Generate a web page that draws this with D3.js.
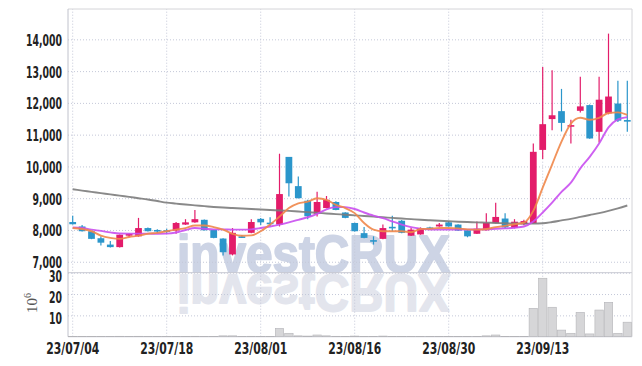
<!DOCTYPE html>
<html>
<head>
<meta charset="utf-8">
<script src="https://cdn.jsdelivr.net/npm/d3@7"></script>
<style>
  body { margin: 0; background: #fff; }
  svg { display: block; }
  .axis text { font-family: "DejaVu Sans Condensed", "DejaVu Sans", sans-serif; font-weight: bold; font-size: 15px; fill: #222; }
  .axis .domain { display: none; }
  .axis line { stroke: #c4c8d8; stroke-dasharray: 1,2; }
</style>
</head>
<body>
<svg width="642" height="366"></svg>
<script>
const dates = [
  "23/07/04","23/07/05","23/07/06","23/07/07","23/07/10","23/07/11","23/07/12","23/07/13","23/07/14","23/07/17",
  "23/07/18","23/07/19","23/07/20","23/07/21","23/07/24","23/07/25","23/07/26","23/07/27","23/07/28","23/07/31",
  "23/08/01","23/08/02","23/08/03","23/08/04","23/08/07","23/08/08","23/08/09","23/08/10","23/08/11","23/08/14",
  "23/08/16","23/08/17","23/08/18","23/08/21","23/08/22","23/08/23","23/08/24","23/08/25","23/08/28","23/08/29",
  "23/08/30","23/08/31","23/09/01","23/09/04","23/09/05","23/09/06","23/09/07","23/09/08","23/09/11","23/09/12",
  "23/09/13","23/09/14","23/09/15","23/09/18","23/09/19","23/09/20","23/09/21","23/09/22","23/09/25","23/09/26"
];
const open = [
  8250, 8110, 7960, 7740, 7540, 7460, 7820, 7800, 8060, 8000,
  7990, 7980, 8170, 8240, 8320, 8000, 7730, 7230, 7800, 7910,
  8350, 8230, 8170, 10300, 9380, 8920, 8510, 8690, 8880, 8550,
  8220, 7900, 7680, 7720, 8100, 8290, 7820, 7860, 8080, 8110,
  8240, 8170, 7990, 7880, 7990, 8220, 8360, 8070, 8180, 8210,
  10520, 11490, 11740, 11260, 11750, 11930, 11090, 11670, 11980, 11460
];
const high = [
  8450, 8160, 7970, 7800, 7650, 7860, 7900, 8380, 8080, 8020,
  8040, 8250, 8340, 8630, 8330, 8010, 7740, 8060, 7840, 8340,
  8380, 8400, 10400, 10300, 9680, 8950, 9200, 9070, 8900, 8560,
  8230, 8090, 7800, 8170, 8450, 8310, 8060, 8080, 8100, 8220,
  8280, 8180, 8000, 8270, 8530, 8860, 8530, 8340, 8320, 10720,
  13130, 13030, 12440, 11470, 12820, 11950, 12820, 14180, 12700, 12700
];
const low = [
  8170, 7950, 7710, 7510, 7450, 7450, 7780, 7790, 7950, 7900,
  7880, 7880, 8160, 8230, 7980, 7740, 7200, 7200, 7750, 7900,
  8160, 8110, 8110, 9050, 8990, 8340, 8420, 8680, 8620, 8370,
  7950, 7740, 7540, 7710, 7950, 7900, 7810, 7850, 8020, 8100,
  8100, 7970, 7770, 7870, 7980, 8210, 8050, 8050, 8150, 8200,
  10230, 11140, 11100, 10720, 11700, 10870, 10750, 11640, 11400, 11090
];
const close = [
  8180, 7960, 7720, 7600, 7460, 7850, 7880, 8060, 7960, 7960,
  7960, 8220, 8240, 8340, 7990, 7750, 7300, 7910, 7790, 8250,
  8240, 8210, 9130, 9470, 9000, 8430, 8880, 8950, 8630, 8380,
  7960, 7750, 7670, 8060, 8080, 7910, 8010, 8060, 8030, 8170,
  8110, 7980, 7800, 8040, 8220, 8410, 8080, 8260, 8280, 10460,
  11330, 11610, 11370, 11300, 11890, 10880, 12100, 12200, 11440, 11450
];
const volume = [
  0.1, 0.1, 0.1, 0.1, 0.1, 0.2, 0.1, 0.2, 0.1, 0.1,
  0.1, 0.1, 0.1, 0.2, 0.1, 0.1, 0.4, 0.4, 0.1, 0.2,
  0.1, 0.1, 3.9, 1.6, 0.4, 0.3, 0.8, 0.4, 0.2, 0.1,
  0.3, 0.1, 0.1, 0.3, 0.1, 0.1, 0.1, 0.1, 0.1, 0.1,
  0.1, 0.1, 0.1, 0.1, 0.4, 0.8, 0.1, 0.1, 0.1, 13.3,
  27.4, 13.8, 3.1, 1.6, 11.4, 1.3, 12.5, 16.1, 1.6, 6.8
];
const ma5 = [
  8060, 8030, 7960, 7820, 7750, 7720, 7780, 7820, 7880, 7910,
  7960, 8010, 8060, 8140, 8140, 8090, 8010, 7880, 7820, 7830,
  7960, 8170, 8420, 8690, 8840, 8890, 9000, 8950, 8790, 8690,
  8530, 8220, 8010, 7960, 7960, 7960, 7930, 8030, 8040, 8060,
  8060, 8050, 8020, 8010, 8030, 8090, 8130, 8180, 8230, 8600,
  9330, 10060, 10780, 11350, 11530, 11470, 11530, 11680, 11700, 11620
];
const ma20 = [
  8080, 8060, 8010, 7970, 7925, 7890, 7885, 7885, 7885, 7880,
  7885, 7920, 8000, 8060, 8040, 8020, 8020, 8010, 8010, 8020,
  8060, 8110, 8170, 8240, 8320, 8400, 8510, 8650, 8720, 8720,
  8660, 8550, 8450, 8370, 8270, 8170, 8090, 8040, 8010, 8010,
  8010, 8010, 8010, 8020, 8020, 8040, 8050, 8070, 8110, 8270,
  8550, 8860, 9200, 9490, 9940, 10300, 10720, 11230, 11480, 11550
];
const ma120 = [
  9280, 9240, 9200, 9160, 9120, 9080, 9040, 9000, 8960, 8910,
  8860, 8830, 8800, 8775, 8750, 8725, 8705, 8690, 8675, 8660,
  8645, 8630, 8615, 8600, 8580, 8560, 8540, 8520, 8500, 8480,
  8460, 8440, 8420, 8400, 8380, 8360, 8340, 8320, 8305, 8290,
  8275, 8260, 8250, 8240, 8230, 8220, 8210, 8205, 8200, 8200,
  8210, 8250, 8300, 8350, 8410, 8470, 8530, 8600, 8680, 8770
];
const priceTicks = [7000, 8000, 9000, 10000, 11000, 12000, 13000, 14000];
const volumeTicks = [10, 20, 30];
const dateTicks = ["23/07/04", "23/07/18", "23/08/01", "23/08/16", "23/08/30", "23/09/13"];

const svg = d3.select("svg");
const plot = { left: 68, right: 632, top: 9, split: 272.7, bottom: 336.7 };

const x = d3.scaleBand().domain(dates).range([plot.left, plot.right]).padding(0);
const cx = d => x(d) + x.bandwidth() / 2;
const y = d3.scaleLinear().domain([6655, 14955]).range([plot.split, plot.top]);
const yVol = d3.scaleLinear().domain([0, 30]).range([plot.bottom, plot.split]);

// watermark + reflection
const wm = svg.append("g")
  .style("font-family", "'Liberation Sans', 'DejaVu Sans', sans-serif")
  .style("font-weight", "bold")
  .style("font-size", "51px")
  .attr("stroke-width", 1.8)
  .attr("stroke-linejoin", "round");
wm.append("text")
  .attr("x", 177).attr("y", 271.7)
  .attr("textLength", 273).attr("lengthAdjust", "spacingAndGlyphs")
  .attr("fill", "#cdd4e5")
  .attr("stroke", "#cdd4e5")
  .text("investCRUX");
wm.append("text")
  .attr("transform", `translate(0,${2 * 273.3}) scale(1,-1)`)
  .attr("x", 177).attr("y", 271.7)
  .attr("textLength", 273).attr("lengthAdjust", "spacingAndGlyphs")
  .attr("fill", "#e3e5ed")
  .attr("stroke", "#e3e5ed")
  .text("investCRUX");

// grid + axes
const yAxisG = svg.append("g")
  .attr("class", "axis")
  .attr("transform", `translate(${plot.left},0)`)
  .call(d3.axisLeft(y).tickValues(priceTicks).tickSizeInner(-(plot.right - plot.left)).tickSizeOuter(0)
    .tickPadding(6).tickFormat(d3.format(",")));
yAxisG.selectAll("text").attr("dy", "0.4em");

const volAxisG = svg.append("g")
  .attr("class", "axis")
  .attr("transform", `translate(${plot.left},0)`)
  .call(d3.axisLeft(yVol).tickValues(volumeTicks).tickSizeInner(-(plot.right - plot.left)).tickSizeOuter(0)
    .tickPadding(6));
volAxisG.selectAll("text").attr("dy", "0.56em");

const xAxisG = svg.append("g")
  .attr("class", "axis")
  .attr("transform", `translate(0,${plot.bottom})`)
  .call(d3.axisBottom(x).tickValues(dateTicks).tickSizeInner(-(plot.bottom - plot.top)).tickSizeOuter(0)
    .tickPadding(6.5));

// squeeze the condensed font down to the narrow face the reference uses
const squeeze = (sel, sample, target) => {
  const probe = svg.append("text").attr("class", "axis").text(sample)
    .style("font-family", "'DejaVu Sans Condensed', 'DejaVu Sans', sans-serif")
    .style("font-weight", "bold").style("font-size", "15px");
  const k = target / probe.node().getComputedTextLength();
  probe.remove();
  sel.each(function() {
    const w = this.getComputedTextLength();
    d3.select(this).attr("textLength", w * k).attr("lengthAdjust", "spacingAndGlyphs");
  });
};
squeeze(yAxisG.selectAll("text"), "14,000", 36);
squeeze(volAxisG.selectAll("text"), "14,000", 36);
squeeze(xAxisG.selectAll("text"), "23/07/04", 53);

// frame
svg.append("line").attr("x1", plot.left).attr("x2", plot.right).attr("y1", plot.split).attr("y2", plot.split)
  .attr("stroke", "#c8c9d2");
svg.append("line").attr("x1", plot.left).attr("x2", plot.right).attr("y1", plot.bottom).attr("y2", plot.bottom)
  .attr("stroke", "#b8bcc8");
svg.append("line").attr("x1", plot.left).attr("x2", plot.right).attr("y1", plot.top).attr("y2", plot.top)
  .attr("stroke", "#d4d4d8");
svg.append("line").attr("x1", plot.left).attr("x2", plot.left).attr("y1", plot.top).attr("y2", plot.bottom)
  .attr("stroke", "#c0c2cc");
svg.append("line").attr("x1", plot.right).attr("x2", plot.right).attr("y1", plot.top).attr("y2", plot.bottom)
  .attr("stroke", "#d4d4d8");

// unit label
const unit = svg.append("text")
  .attr("transform", "translate(37,313) rotate(-90)")
  .style("font-family", "'Liberation Serif', 'DejaVu Serif', serif")
  .style("font-size", "15px")
  .attr("fill", "#555");
unit.append("tspan").text("10");
unit.append("tspan").attr("dy", -6).style("font-size", "10px").text("6");

const candles = dates.map((d, i) => ({
  date: d, o: open[i], h: high[i], l: low[i], c: close[i], v: volume[i]
}));

// volume
svg.append("g").selectAll("rect")
  .data(candles)
  .enter()
  .append("rect")
  .attr("x", d => x(d.date) + 0.5)
  .attr("y", d => yVol(d.v))
  .attr("width", x.bandwidth() - 1)
  .attr("height", d => plot.bottom - yVol(d.v))
  .attr("fill", "#d6d6d8")
  .attr("stroke", "#b4b4b8")
  .attr("stroke-width", 0.6);

// candles
const up = "#e31c6a", down = "#2b96cb";
const cg = svg.append("g");
cg.selectAll(".wick")
  .data(candles)
  .enter()
  .append("line")
  .attr("class", "wick")
  .attr("x1", d => cx(d.date))
  .attr("x2", d => cx(d.date))
  .attr("y1", d => y(d.h))
  .attr("y2", d => y(d.l))
  .attr("stroke", d => d.c >= d.o ? up : down)
  .attr("stroke-width", 1.2);

const bw = x.bandwidth() * 0.72;
cg.selectAll(".body")
  .data(candles)
  .enter()
  .append("rect")
  .attr("class", "body")
  .attr("x", d => cx(d.date) - bw / 2)
  .attr("y", d => y(Math.max(d.o, d.c)))
  .attr("width", bw)
  .attr("height", d => Math.max(1.6, Math.abs(y(d.o) - y(d.c))))
  .attr("fill", d => d.c >= d.o ? up : down);

// moving averages
const line = d3.line()
  .x((d, i) => cx(dates[i]))
  .y(d => y(d))
  .curve(d3.curveMonotoneX);

[[ma120, "#7c7c7c"], [ma20, "#c94ff0"], [ma5, "#ef874a"]].forEach(([vals, color]) => {
  svg.append("path")
    .datum(vals)
    .attr("d", line)
    .attr("fill", "none")
    .attr("stroke", color)
    .attr("stroke-width", 1.9)
    .attr("stroke-opacity", 0.9);
});
</script>
</body>
</html>
